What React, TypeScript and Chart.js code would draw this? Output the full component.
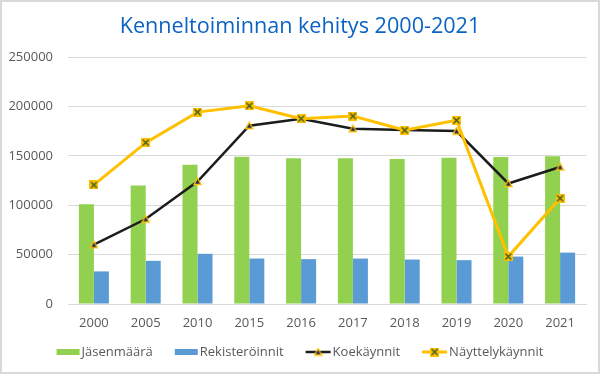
import React, { useEffect, useRef } from "react";
import { Chart, registerables } from "chart.js";

Chart.register(...registerables);

const title = "Kenneltoiminnan kehitys 2000-2021";
const years = ["2000", "2005", "2010", "2015", "2016", "2017", "2018", "2019", "2020", "2021"];
const members = [101000, 120000, 141000, 149000, 147500, 147500, 146800, 148000, 148800, 149500];
const registrations = [33000, 43700, 50800, 46000, 45400, 46000, 45000, 44400, 48000, 52000];
const trials = [60000, 86000, 124000, 180500, 187500, 177500, 176000, 175000, 122000, 138700];
const shows = [120500, 163300, 194200, 200600, 187500, 190200, 175800, 185900, 48000, 107000];
const seriesNames = ["Jäsenmäärä", "Rekisteröinnit", "Koekäynnit", "Näyttelykäynnit"];

const GREEN = "#92d050";
const BLUE = "#5b9bd5";
const BLACK = "#1c1c1c";
const YELLOW = "#ffc000";
const FONT = "'Open Sans', sans-serif";
const TEXT = "#595959";

function makeTriangle(): HTMLCanvasElement {
  const c = document.createElement("canvas");
  c.width = 9;
  c.height = 9;
  const g = c.getContext("2d")!;
  g.beginPath();
  g.moveTo(4.5, 1);
  g.lineTo(8, 7.5);
  g.lineTo(1, 7.5);
  g.closePath();
  g.fillStyle = "#1f2a5a";
  g.fill();
  g.strokeStyle = YELLOW;
  g.lineWidth = 1.3;
  g.stroke();
  return c;
}

function makeCross(): HTMLCanvasElement {
  const c = document.createElement("canvas");
  c.width = 9;
  c.height = 9;
  const g = c.getContext("2d")!;
  g.fillStyle = YELLOW;
  g.fillRect(0, 0, 9, 9);
  g.strokeStyle = "#3a5a1c";
  g.lineWidth = 1.4;
  g.beginPath();
  g.moveTo(1.5, 1.5);
  g.lineTo(7.5, 7.5);
  g.moveTo(7.5, 1.5);
  g.lineTo(1.5, 7.5);
  g.stroke();
  return c;
}

export default function App() {
  const ref = useRef<HTMLCanvasElement>(null);
  useEffect(() => {
    document.body.style.margin = "0";
    const tri = makeTriangle();
    const cross = makeCross();

    const decor = {
      id: "decor",
      beforeDraw(chart: any) {
        const ctx = chart.ctx;
        ctx.save();
        ctx.fillStyle = "#ffffff";
        ctx.fillRect(0, 0, chart.width, chart.height);
        ctx.restore();
      },
      afterDraw(chart: any) {
        const ctx = chart.ctx;
        ctx.save();
        // border
        ctx.strokeStyle = "#d9d9d9";
        ctx.lineWidth = 2;
        ctx.strokeRect(1, 1, chart.width - 2, chart.height - 2);
        // title
        ctx.fillStyle = "#0b63c4";
        ctx.font = `21.6px ${FONT}`;
        ctx.textAlign = "center";
        ctx.textBaseline = "alphabetic";
        ctx.fillText(title, chart.width / 2, 33);
        // legend
        ctx.font = `13px ${FONT}`;
        const boxW = 23;
        const lineW = 25;
        const gapText = 2;
        const gapItem = 22;
        const widths = seriesNames.map((n, i) => (i < 2 ? boxW : lineW) + gapText + ctx.measureText(n).width);
        const total = widths.reduce((a, b) => a + b, 0) + gapItem * (widths.length - 1);
        let x = chart.width / 2 - total / 2;
        const cy = 352;
        ctx.textAlign = "left";
        ctx.textBaseline = "middle";
        seriesNames.forEach((n, i) => {
          if (i < 2) {
            ctx.fillStyle = i === 0 ? GREEN : BLUE;
            ctx.fillRect(x, cy - 3, boxW, 6);
            x += boxW + gapText;
          } else {
            ctx.strokeStyle = i === 2 ? BLACK : YELLOW;
            ctx.lineWidth = i === 2 ? 2.5 : 3;
            ctx.beginPath();
            ctx.moveTo(x, cy);
            ctx.lineTo(x + lineW, cy);
            ctx.stroke();
            const img = i === 2 ? tri : cross;
            ctx.drawImage(img, x + lineW / 2 - 4.5, cy - 4.5);
            x += lineW + gapText;
          }
          ctx.fillStyle = TEXT;
          ctx.fillText(n, x, cy);
          x += ctx.measureText(n).width + gapItem;
        });
        ctx.restore();
      },
    };

    const chart = new Chart(ref.current!, {
      type: "bar",
      data: {
        labels: years,
        datasets: [
          {
            type: "line",
            label: seriesNames[3],
            data: shows,
            borderColor: YELLOW,
            backgroundColor: YELLOW,
            borderWidth: 3,
            pointStyle: cross as any,
            pointRadius: 5,
            tension: 0,
            order: 0,
          },
          {
            type: "line",
            label: seriesNames[2],
            data: trials,
            borderColor: BLACK,
            backgroundColor: BLACK,
            borderWidth: 2.5,
            pointStyle: tri as any,
            pointRadius: 5,
            tension: 0,
            order: 1,
          },
          {
            type: "bar",
            label: seriesNames[0],
            data: members,
            backgroundColor: GREEN,
            borderWidth: 0,
            order: 2,
          },
          {
            type: "bar",
            label: seriesNames[1],
            data: registrations,
            backgroundColor: BLUE,
            borderWidth: 0,
            order: 3,
          },
        ] as any,
      },
      options: {
        animation: false,
        responsive: false,
        maintainAspectRatio: false,
        datasets: {
          bar: { categoryPercentage: 0.58, barPercentage: 1 },
        } as any,
        layout: { padding: { top: 57, right: 14, bottom: 0, left: 0 } },
        plugins: {
          legend: { display: false },
          title: { display: false },
          tooltip: { enabled: false },
        },
        scales: {
          x: {
            grid: { display: false, drawTicks: false },
            border: { display: true, color: "#d9d9d9", width: 1 },
            ticks: { color: TEXT, font: { family: FONT, size: 13 }, padding: 11, maxRotation: 0 },
            afterFit: (s: any) => {
              s.height = 70;
            },
          },
          y: {
            min: 0,
            max: 250000,
            grid: { color: "#d9d9d9", lineWidth: 1, drawTicks: false },
            border: { display: false },
            ticks: {
              stepSize: 50000,
              color: TEXT,
              font: { family: FONT, size: 13 },
              padding: 15,
              callback: (v: any) => String(v),
            },
            afterFit: (s: any) => {
              s.width = 68;
            },
          },
        },
      },
      plugins: [decor],
    });
    return () => chart.destroy();
  }, []);
  return (
    <div style={{ width: 600, height: 374 }}>
      <canvas ref={ref} width={600} height={374} style={{ display: "block" }} />
    </div>
  );
}
